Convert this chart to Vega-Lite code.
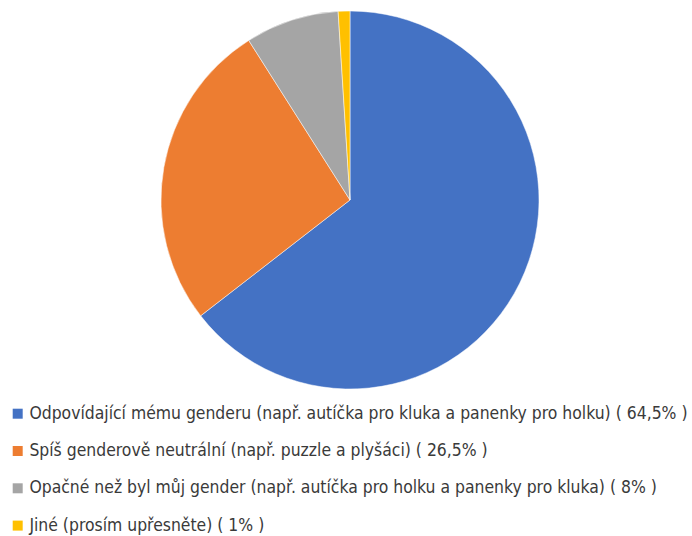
{
  "$schema": "https://vega.github.io/schema/vega-lite/v6.json",
  "width": 692,
  "height": 536,
  "autosize": "none",
  "padding": 0,
  "background": "white",
  "config": {"view": {"stroke": null}},
  "data": {"values": [
    {"label": "Odpovídající mému genderu (např. autíčka pro kluka a panenky pro holku) ( 64,5% )", "value": 64.5, "order": 1},
    {"label": "Spíš genderově neutrální (např. puzzle a plyšáci) ( 26,5% )", "value": 26.5, "order": 2},
    {"label": "Opačné než byl můj gender (např. autíčka pro holku a panenky pro kluka) ( 8% )", "value": 8, "order": 3},
    {"label": "Jiné (prosím upřesněte) ( 1% )", "value": 1, "order": 4}
  ]},
  "mark": {"type": "arc", "x": 350, "y": 200, "radius": 189, "stroke": "white", "strokeWidth": 0.5},
  "encoding": {
    "theta": {"field": "value", "type": "quantitative", "stack": true},
    "order": {"field": "order", "type": "quantitative"},
    "color": {
      "field": "label",
      "type": "nominal",
      "scale": {
        "domain": [
          "Odpovídající mému genderu (např. autíčka pro kluka a panenky pro holku) ( 64,5% )",
          "Spíš genderově neutrální (např. puzzle a plyšáci) ( 26,5% )",
          "Opačné než byl můj gender (např. autíčka pro holku a panenky pro kluka) ( 8% )",
          "Jiné (prosím upřesněte) ( 1% )"
        ],
        "range": ["#4472C4", "#ED7D31", "#A5A5A5", "#FFC000"]
      },
      "legend": {
        "title": null,
        "orient": "none",
        "legendX": 9,
        "legendY": 405,
        "symbolType": "square",
        "symbolSize": 100,
        "symbolStrokeWidth": 0,
        "labelFont": "DejaVu Sans Condensed",
        "labelFontSize": 17.4,
        "labelColor": "#3a3a3a",
        "labelLimit": 700,
        "labelOffset": 3,
        "rowPadding": 18.3
      }
    }
  }
}
